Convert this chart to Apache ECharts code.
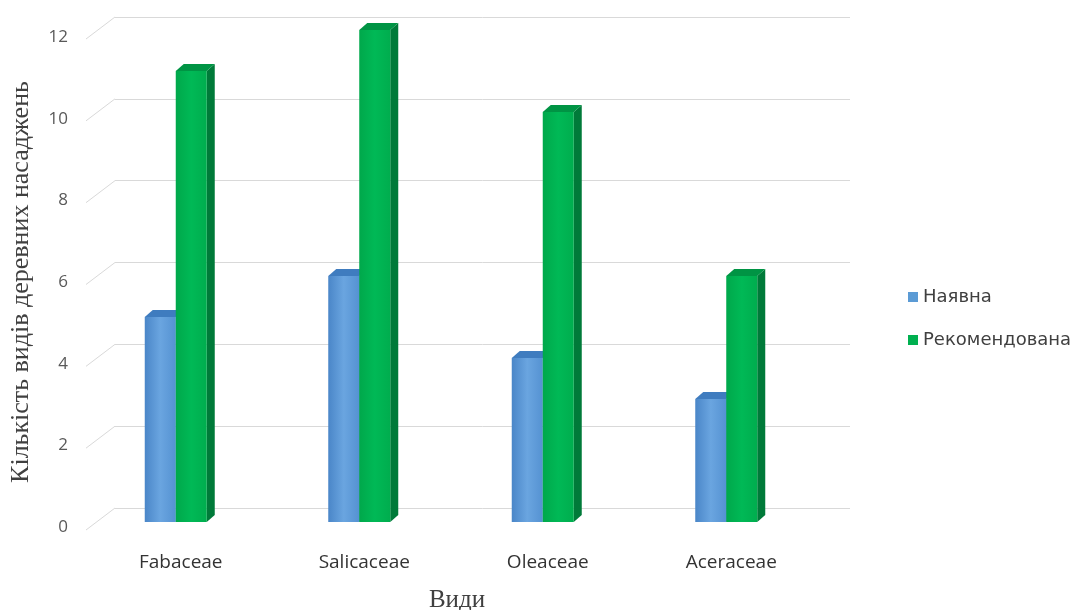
<!DOCTYPE html>
<html>
<head>
<meta charset="utf-8">
<script src="https://cdn.jsdelivr.net/npm/echarts@6/dist/echarts.min.js"></script>
<style>
  html, body { margin: 0; padding: 0; background: #fff; }
  #chart { width: 1087px; height: 610px; }
</style>
</head>
<body>
<div id="chart"></div>
<script>
var categories = ['Fabaceae', 'Salicaceae', 'Oleaceae', 'Aceraceae'];
var existing = [5, 6, 4, 3];
var recommended = [11, 12, 10, 6];
var yTicks = [0, 2, 4, 6, 8, 10, 12];
var seriesNames = ['Наявна', 'Рекомендована'];

var dom = document.getElementById('chart');
var myChart = echarts.init(dom);

// 3d-ish bar: front face + side face + top face
function bar3d(pos, front, side, top) {
    return function (params, api) {
        var idx = api.value(0);
        var val = api.value(1);
        var pt = api.coord([idx, val]);
        var base = api.coord([idx, 0]);
        var w = 31, d = 8, dy = 7;
        var x0 = pos === 0 ? pt[0] - w : pt[0];
        var y0 = pt[1];
        var y1 = base[1];
        return {
            type: 'group',
            children: [{
                type: 'polygon',
                shape: { points: [[x0 + w, y0], [x0 + w + d, y0 - dy], [x0 + w + d, y1 - dy], [x0 + w, y1]] },
                style: { fill: side }
            }, {
                type: 'polygon',
                shape: { points: [[x0, y0], [x0 + d, y0 - dy], [x0 + w + d, y0 - dy], [x0 + w, y0]] },
                style: { fill: top }
            }, {
                type: 'rect',
                shape: { x: x0, y: y0, width: w, height: y1 - y0 },
                style: { fill: front }
            }]
        };
    };
}

function toPairs(arr) {
    return arr.map(function (v, i) { return [i, v]; });
}

var blueFront = new echarts.graphic.LinearGradient(0, 0, 1, 0, [
    { offset: 0, color: '#4a86c8' },
    { offset: 0.5, color: '#6aa5e0' },
    { offset: 1, color: '#5592d2' }
]);
var greenFront = new echarts.graphic.LinearGradient(0, 0, 1, 0, [
    { offset: 0, color: '#00a84b' },
    { offset: 0.5, color: '#00b956' },
    { offset: 1, color: '#00ad4e' }
]);

option = {
    animation: false,
    backgroundColor: '#fff',
    legend: {
        orient: 'vertical',
        left: 903,
        top: 283,
        itemWidth: 10,
        itemHeight: 10,
        itemGap: 25,
        icon: 'rect',
        textStyle: { color: '#404040', fontSize: 18, fontFamily: 'DejaVu Sans' },
        data: [
            { name: seriesNames[0], itemStyle: { color: '#5b9bd5' } },
            { name: seriesNames[1], itemStyle: { color: '#00b050' } }
        ]
    },
    grid: [
        { left: 84, right: 269, top: 30, bottom: 88, outerBoundsMode: 'none' },   // front bars
        { left: 115, right: 237, top: 17, bottom: 102, outerBoundsMode: 'none' }, // back wall
        { left: 82, width: 1, top: 37, bottom: 83, outerBoundsMode: 'none' }      // tick labels
    ],
    xAxis: [{
        type: 'category',
        gridIndex: 0,
        data: categories,
        axisLine: { show: false },
        axisTick: { show: false },
        axisLabel: {
            margin: 31, color: '#333', fontSize: 19, fontFamily: 'Open Sans',
            padding: [0, 0, 0, 10]
        },
        name: 'Види',
        nameLocation: 'middle',
        nameGap: 66,
        nameTextStyle: { fontFamily: 'Liberation Serif', fontSize: 25, color: '#404040', padding: [0, 0, 0, 12] }
    }, {
        type: 'value', gridIndex: 1, min: 0, max: 1, show: false
    }, {
        type: 'value', gridIndex: 2, min: 0, max: 1, show: false
    }],
    yAxis: [{
        type: 'value', gridIndex: 0, min: 0, max: 12, interval: 2, show: false
    }, {
        type: 'value', gridIndex: 1, min: 0, max: 12, interval: 2,
        axisLine: { show: false },
        axisTick: { show: false },
        axisLabel: { show: false },
        splitLine: { lineStyle: { color: '#d9d9d9', width: 1 } }
    }, {
        type: 'value', gridIndex: 2, min: 0, max: 12, interval: 2,
        axisLine: { show: false },
        axisTick: { show: false },
        splitLine: { show: false },
        axisLabel: { margin: 14, color: '#595959', fontSize: 17, fontFamily: 'Open Sans' },
        name: 'Кількість видів деревних насаджень',
        nameLocation: 'middle',
        nameGap: 48,
        nameTextStyle: { fontFamily: 'Liberation Serif', fontSize: 26, color: '#404040' }
    }],
    series: [{
        type: 'custom',
        name: 'wall',
        xAxisIndex: 1,
        yAxisIndex: 1,
        silent: true,
        legendHoverLink: false,
        data: yTicks.map(function (v) { return [0, v]; }),
        renderItem: function (params, api) {
            var p = api.coord([0, api.value(1)]);
            return {
                type: 'line',
                shape: { x1: p[0], y1: p[1], x2: p[0] - 29, y2: p[1] + 22 },
                style: { stroke: '#d9d9d9', lineWidth: 1 }
            };
        }
    }, {
        type: 'custom',
        name: seriesNames[0],
        xAxisIndex: 0,
        yAxisIndex: 0,
        itemStyle: { color: '#5b9bd5' },
        encode: { x: 0, y: 1 },
        data: toPairs(existing),
        renderItem: bar3d(0, blueFront, '#3e72ad', '#3f7cbf')
    }, {
        type: 'custom',
        name: seriesNames[1],
        xAxisIndex: 0,
        yAxisIndex: 0,
        itemStyle: { color: '#00b050' },
        encode: { x: 0, y: 1 },
        data: toPairs(recommended),
        renderItem: bar3d(1, greenFront, '#007a39', '#009444')
    }]
};

if (option && typeof option === 'object') {
    myChart.setOption(option, true);
}

window.addEventListener('resize', function () {
    myChart.resize();
});
</script>
</body>
</html>
